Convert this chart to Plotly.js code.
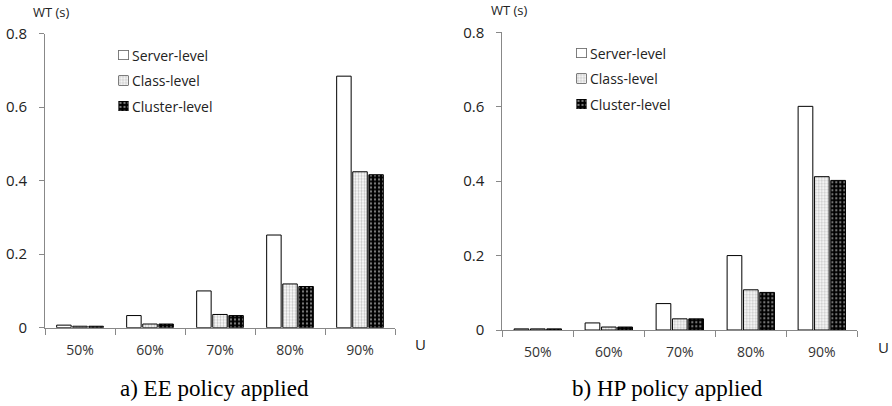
<!DOCTYPE html>
<html>
<head>
<meta charset="utf-8">
<script src="https://cdn.plot.ly/plotly-3.0.1.min.js"></script>
<style>html,body{margin:0;padding:0;background:#fff;}#chart{width:892px;height:406px;}</style>
</head>
<body>
<div id="chart"></div>
<script>
const categories = ["50%", "60%", "70%", "80%", "90%"];
const seriesNames = ["Server-level", "Class-level", "Cluster-level"];
// a) EE policy applied
const eeServer  = [0.007, 0.033, 0.100, 0.252, 0.684];
const eeClass   = [0.004, 0.010, 0.036, 0.119, 0.424];
const eeCluster = [0.004, 0.010, 0.033, 0.112, 0.416];
// b) HP policy applied
const hpServer  = [0.003, 0.019, 0.071, 0.200, 0.601];
const hpClass   = [0.003, 0.008, 0.030, 0.108, 0.412];
const hpCluster = [0.003, 0.008, 0.030, 0.101, 0.402];
const yTicks = [0, 0.2, 0.4, 0.6, 0.8];
const yTickText = ["0", "0.2", "0.4", "0.6", "0.8"];
const captions = ["a) EE policy applied", "b) HP policy applied"];

const styles = [
  {color: "#ffffff", line: {color: "#000", width: 1}, pattern: {shape: ""}},
  {color: "#ffffff", line: {color: "#000", width: 1},
   pattern: {shape: ".", fgcolor: "#8a8a8a", bgcolor: "#ffffff", size: 3, solidity: 0.45, fillmode: "overlay"}},
  {color: "#000000", line: {color: "#000", width: 1},
   pattern: {shape: ".", fgcolor: "#ffffff", bgcolor: "#000000", size: 4, solidity: 0.25, fillmode: "overlay"}}
];

const traces = [];
[[eeServer, eeClass, eeCluster], [hpServer, hpClass, hpCluster]].forEach((set, p) => {
  set.forEach((vals, i) => {
    traces.push({
      type: "bar", x: categories, y: vals, name: seriesNames[i],
      xaxis: p === 0 ? "x" : "x2", yaxis: p === 0 ? "y" : "y2",
      marker: styles[i], showlegend: false, hoverinfo: "none"
    });
  });
});

const FAM = "Open Sans, sans-serif";
const font = {family: FAM, size: 13, color: "#222"};
const xBase = {
  type: "category", showline: true, linecolor: "#888", linewidth: 1,
  ticks: "outside", ticklen: 6, tickcolor: "#888", tickson: "boundaries",
  showgrid: false, zeroline: false, fixedrange: true,
  tickfont: {family: FAM, size: 14, color: "#333"}, ticklabelstandoff: 9
};
const yBase = {
  range: [0, 0.8], tickvals: yTicks, ticktext: yTickText,
  showline: true, linecolor: "#888", linewidth: 1,
  ticks: "outside", ticklen: 5, tickcolor: "#888",
  showgrid: false, zeroline: false, fixedrange: true,
  tickfont: {family: FAM, size: 15, color: "#222"}, ticklabelstandoff: 9
};

const W = 892, H = 406;
const px = v => v / W, py = v => 1 - v / H;

const annotations = [];
function legend(x0, y0) {
  seriesNames.forEach((n, i) => {
    const y = y0 + i * 25.5;
    annotations.push({xref: "paper", yref: "paper", x: px(x0 + 12), y: py(y), xanchor: "left", yanchor: "middle",
      text: n, showarrow: false, font: {family: FAM, size: 14, color: "#222"}});
  });
}
legend(118, 55);
legend(576, 53);

annotations.push(
  {xref: "paper", yref: "paper", x: px(51), y: py(12), text: "WT (s)", showarrow: false, xanchor: "center", yanchor: "middle", font: font},
  {xref: "paper", yref: "paper", x: px(509), y: py(10), text: "WT (s)", showarrow: false, xanchor: "center", yanchor: "middle", font: font},
  {xref: "paper", yref: "paper", x: px(420), y: py(344), text: "U", showarrow: false, xanchor: "center", yanchor: "middle", font: {family: FAM, size: 15, color: "#222"}},
  {xref: "paper", yref: "paper", x: px(883), y: py(347), text: "U", showarrow: false, xanchor: "center", yanchor: "middle", font: {family: FAM, size: 15, color: "#222"}},
  {xref: "paper", yref: "paper", x: px(214), y: py(388), text: captions[0], showarrow: false, xanchor: "center", yanchor: "middle", font: {family: "Liberation Serif, Times New Roman, serif", size: 23, color: "#000"}},
  {xref: "paper", yref: "paper", x: px(667), y: py(388), text: captions[1], showarrow: false, xanchor: "center", yanchor: "middle", font: {family: "Liberation Serif, Times New Roman, serif", size: 23, color: "#000"}}
);

// legend swatches as small bar traces on their own invisible axes
[[118, 55], [576, 53]].forEach(([x0, y0], p) => {
  seriesNames.forEach((n, i) => {
    const ax = 3 + p * 3 + i;
    traces.push({
      type: "bar", x: [0], y: [1], width: [1], name: n, showlegend: false, hoverinfo: "none",
      xaxis: "x" + ax, yaxis: "y" + ax, marker: styles[i]
    });
  });
});

const layout = {
  width: W, height: H, margin: {l: 0, r: 0, t: 0, b: 0},
  paper_bgcolor: "#fff", plot_bgcolor: "rgba(0,0,0,0)",
  font: font, showlegend: false,
  barmode: "group", bargap: 0.31, bargroupgap: 0.1,
  xaxis: Object.assign({}, xBase, {domain: [px(45), px(395)], anchor: "y"}),
  yaxis: Object.assign({}, yBase, {domain: [py(327.7), py(33.5)], anchor: "x"}),
  xaxis2: Object.assign({}, xBase, {domain: [px(502.3), px(857.3)], anchor: "y2"}),
  yaxis2: Object.assign({}, yBase, {domain: [py(330), py(32.3)], anchor: "x2"}),
  annotations: annotations
};
[[118, 55], [576, 53]].forEach(([x0, y0], p) => {
  seriesNames.forEach((n, i) => {
    const yc = y0 + i * 25.5;
    const ax = 3 + p * 3 + i;
    const hidden = {visible: false, fixedrange: true, range: [-0.5, 0.5]};
    layout["xaxis" + ax] = Object.assign({}, hidden, {domain: [px(x0 + 0.5), px(x0 + 10.5)], anchor: "y" + ax});
    layout["yaxis" + ax] = Object.assign({}, hidden, {range: [0, 1], domain: [py(yc + 5), py(yc - 5)], anchor: "x" + ax});
  });
});

Plotly.newPlot("chart", traces, layout, {displayModeBar: false, staticPlot: true});
</script>
</body>
</html>
